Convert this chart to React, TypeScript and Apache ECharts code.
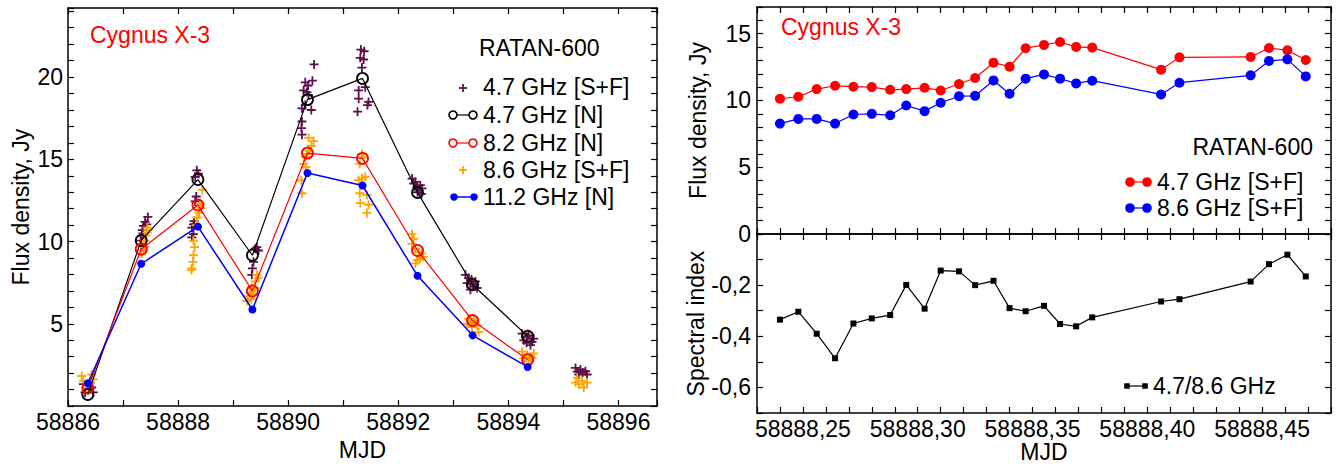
import React, { useEffect, useRef } from 'react';
import * as echarts from 'echarts';

const FONT = "'Liberation Sans', Arial, Helvetica, sans-serif";
const PURPLE = '#5e0f4c';
const ORANGE = '#ffa500';

// ---- Left panel: RATAN-600 N-sector daily points ----
const nMJD = [58886.36, 58887.33, 58888.36, 58889.35, 58890.35, 58891.35, 58892.35, 58893.35, 58894.35];
const n47 = [0.71, 10.07, 13.77, 9.17, 18.63, 19.92, 12.98, 7.38, 4.25];
const n82 = [1.1, 9.54, 12.22, 7.0, 15.38, 15.06, 9.46, 5.2, 2.82];
const n112 = [1.39, 8.65, 10.91, 5.87, 14.17, 13.41, 7.92, 4.3, 2.38];

// 4.7 GHz [S+F] individual measurements [MJD, Jy]
const sf47 = [
  [58886.28, 1.33], [58886.43, 1.13], [58886.31, 0.83], [58886.46, 0.83], [58886.40, 1.43],
  [58887.45, 11.5], [58887.40, 11.2], [58887.37, 10.95], [58887.43, 11.05], [58887.35, 10.7], [58887.34, 10.35], [58887.32, 10.06], [58887.33, 9.8], [58887.36, 10.5],
  [58888.34, 14.33], [58888.37, 14.13], [58888.31, 13.93], [58888.33, 12.74], [58888.31, 12.44], [58888.28, 11.05], [58888.25, 10.85], [58888.28, 10.46], [58888.25, 10.26], [58888.29, 11.25],
  [58889.43, 9.66], [58889.46, 9.46], [58889.40, 9.56], [58889.37, 8.77], [58889.35, 8.37], [58889.34, 7.98],
  [58890.47, 20.77], [58890.44, 19.78], [58890.31, 19.68], [58890.36, 19.49], [58890.28, 19.19], [58890.34, 19.09], [58890.37, 18.9], [58890.25, 18.1], [58890.42, 18.0], [58890.31, 18.3], [58890.25, 17.3], [58890.24, 16.9], [58890.25, 16.5],
  [58891.32, 21.67], [58891.38, 21.57], [58891.31, 21.17], [58891.37, 21.07], [58891.34, 20.58], [58891.40, 19.39], [58891.28, 19.19], [58891.28, 18.69], [58891.46, 18.49], [58891.44, 18.3], [58891.26, 17.9],
  [58892.25, 13.83], [58892.28, 13.53], [58892.34, 13.33], [58892.40, 13.43], [58892.43, 13.23], [58892.37, 13.14], [58892.31, 13.63], [58892.35, 13.0], [58892.42, 12.9],
  [58893.22, 7.98], [58893.28, 7.78], [58893.40, 7.58], [58893.43, 7.18], [58893.31, 7.08], [58893.37, 7.28], [58893.25, 7.48], [58893.35, 7.4], [58893.33, 7.7],
  [58894.25, 4.4], [58894.34, 4.21], [58894.43, 3.91], [58894.40, 3.71], [58894.28, 4.0], [58894.46, 4.1], [58894.37, 4.3], [58894.33, 3.85],
  [58895.22, 2.32], [58895.31, 2.22], [58895.40, 2.12], [58895.28, 1.92], [58895.43, 1.92], [58895.35, 2.05], [58895.25, 2.1],
];

// 8.6 GHz [S+F] individual measurements [MJD, Jy]
const sf86 = [
  [58886.25, 1.83], [58886.43, 1.92], [58886.28, 1.53], [58886.34, 1.13], [58886.46, 1.63],
  [58887.45, 10.71], [58887.41, 10.36], [58887.40, 10.06], [58887.39, 9.66], [58887.37, 9.46], [58887.44, 10.55], [58887.44, 10.85], [58887.37, 9.76], [58887.34, 9.27],
  [58888.44, 13.14], [58888.42, 12.04], [58888.38, 11.75], [58888.34, 11.45], [58888.28, 10.06], [58888.30, 9.66], [58888.28, 9.17], [58888.27, 8.77], [58888.25, 8.37], [58888.24, 8.27], [58888.40, 12.3], [58888.33, 11.0],
  [58889.43, 7.98], [58889.40, 7.58], [58889.34, 7.18], [58889.31, 6.89], [58889.28, 6.69], [58889.37, 6.79], [58889.33, 6.49], [58889.25, 6.39], [58889.40, 7.18], [58889.46, 7.8],
  [58890.37, 16.31], [58890.46, 16.11], [58890.42, 15.81], [58890.38, 15.52], [58890.31, 15.12], [58890.28, 14.72], [58890.32, 14.52], [58890.24, 13.73], [58890.25, 12.94], [58890.34, 15.32],
  [58891.34, 15.32], [58891.37, 15.12], [58891.30, 14.72], [58891.34, 13.83], [58891.28, 13.73], [58891.40, 13.93], [58891.30, 12.94], [58891.43, 12.84], [58891.31, 12.34], [58891.46, 12.24], [58891.43, 11.74],
  [58892.25, 10.46], [58892.28, 10.16], [58892.25, 9.86], [58892.31, 9.56], [58892.37, 9.36], [58892.43, 9.27], [58892.40, 8.97], [58892.34, 8.87], [58892.45, 9.07], [58892.31, 8.67],
  [58893.28, 5.3], [58893.37, 5.2], [58893.43, 4.9], [58893.34, 4.8], [58893.46, 4.5], [58893.25, 5.0], [58893.40, 5.1], [58893.31, 5.05],
  [58894.25, 3.31], [58894.34, 3.11], [58894.43, 2.92], [58894.37, 2.72], [58894.46, 3.21], [58894.28, 2.92], [58894.40, 3.0],
  [58895.25, 1.73], [58895.34, 1.53], [58895.28, 1.33], [58895.37, 1.13], [58895.43, 1.43], [58895.22, 1.43],
];

// ---- Right panel: one day, individual scans ----
const rMJD = [58888.240, 58888.248, 58888.256, 58888.264, 58888.272, 58888.280, 58888.288, 58888.295, 58888.303, 58888.310,
  58888.318, 58888.325, 58888.333, 58888.340, 58888.347, 58888.355, 58888.362, 58888.369, 58888.376, 58888.406,
  58888.414, 58888.445, 58888.453, 58888.461, 58888.469];
const r47 = [10.13, 10.28, 10.85, 11.1, 11.03, 11.0, 10.8, 10.85, 10.95, 10.75, 11.23, 11.68, 12.83, 12.53, 13.91,
  14.16, 14.38, 14.01, 13.96, 12.31, 13.23, 13.26, 13.93, 13.76, 13.03];
const r86 = [8.27, 8.62, 8.62, 8.27, 8.95, 9.0, 8.89, 9.62, 9.2, 9.83, 10.32, 10.35, 11.5, 10.5, 11.63,
  11.95, 11.63, 11.28, 11.48, 10.45, 11.33, 11.88, 12.96, 13.08, 11.8];
const spIdx = [-0.335, -0.304, -0.39, -0.486, -0.35, -0.33, -0.317, -0.199, -0.292, -0.143, -0.146, -0.2, -0.183,
  -0.29, -0.302, -0.281, -0.352, -0.361, -0.326, -0.264, -0.255, -0.186, -0.118, -0.081, -0.166];

const PLUS = 'path://M3.6,0H5.4V3.6H9V5.4H5.4V9H3.6V5.4H0V3.6H3.6Z';

const txt = { color: '#000', fontSize: 23, fontFamily: FONT };
const aLine = { show: true, onZero: false, lineStyle: { color: '#000', width: 1.5 } };
const aTick = { show: true, inside: true, length: 6, lineStyle: { color: '#000', width: 1.2 } };
const noSplit = { show: false };

function mirrorX(gridIndex: number, min: number, max: number, interval: number, position: string) {
  return { type: 'value', gridIndex, min, max, interval, position, axisLine: aLine, axisTick: aTick, axisLabel: { show: false }, splitLine: noSplit };
}
function mirrorY(gridIndex: number, min: number, max: number, interval: number) {
  return { type: 'value', gridIndex, min, max, interval, position: 'right', axisLine: aLine, axisTick: aTick, axisLabel: { show: false }, splitLine: noSplit };
}

function gText(text: string, x: number, y: number, fill = '#000', align = 'left') {
  return {
    type: 'text', x, y, silent: true,
    style: { text, fill, fontSize: 23, fontFamily: FONT, textAlign: align, align, textVerticalAlign: 'middle', verticalAlign: 'middle' },
  };
}
function gLine(x1: number, y1: number, x2: number, y2: number, stroke: string, w = 1.2) {
  return { type: 'line', shape: { x1, y1, x2, y2 }, style: { stroke, lineWidth: w }, silent: true };
}
function gCircle(cx: number, cy: number, r: number, stroke: string, fill: string, w = 1.6) {
  return { type: 'circle', shape: { cx, cy, r }, style: { stroke, fill, lineWidth: w }, silent: true };
}
function gPlus(cx: number, cy: number, color: string) {
  return {
    type: 'group', silent: true, children: [
      { type: 'rect', shape: { x: cx - 4, y: cy - 0.9, width: 8, height: 1.8 }, style: { fill: color } },
      { type: 'rect', shape: { x: cx - 0.9, y: cy - 4, width: 1.8, height: 8 }, style: { fill: color } },
    ],
  };
}
function gSquare(cx: number, cy: number, s: number) {
  return { type: 'rect', shape: { x: cx - s / 2, y: cy - s / 2, width: s, height: s }, style: { fill: '#000' }, silent: true };
}

export default function App() {
  const ref = useRef<HTMLDivElement>(null);
  useEffect(() => {
    if (!ref.current) return;
    const chart = echarts.init(ref.current, null, { renderer: 'svg' });
    const rightXLabel = (v: number) => {
      const k = Math.round(v * 100);
      if (k % 5 !== 0) return '';
      return (k / 100).toFixed(2).replace('.', ',');
    };
    chart.setOption({
      animation: false,
      backgroundColor: '#fff',
      textStyle: { fontFamily: FONT },
      grid: [
        { left: 68, top: 8, width: 589, height: 406 },
        { left: 757, top: 7, width: 574, height: 227 },
        { left: 757, top: 234, width: 574, height: 179 },
      ],
      xAxis: [
        {
          type: 'value', gridIndex: 0, min: 58886, max: 58896.7, interval: 1, position: 'bottom',
          axisLine: aLine, axisTick: aTick, splitLine: noSplit,
          axisLabel: { ...txt, margin: 4, formatter: (v: number) => (Number.isInteger(v) && v % 2 === 0 ? String(v) : '') },
          name: 'MJD', nameLocation: 'middle', nameGap: 25, nameTextStyle: txt,
        },
        mirrorX(0, 58886, 58896.7, 1, 'top'),
        mirrorX(1, 58888.23, 58888.48, 0.01, 'bottom'),
        mirrorX(1, 58888.23, 58888.48, 0.01, 'top'),
        {
          type: 'value', gridIndex: 2, min: 58888.23, max: 58888.48, interval: 0.01, position: 'bottom',
          axisLine: aLine, axisTick: aTick, splitLine: noSplit,
          axisLabel: { ...txt, margin: 4, formatter: rightXLabel },
          name: 'MJD', nameLocation: 'middle', nameGap: 26, nameTextStyle: txt,
        },
        mirrorX(2, 58888.23, 58888.48, 0.01, 'top'),
      ],
      yAxis: [
        {
          type: 'value', gridIndex: 0, min: 0, max: 24.2, interval: 1, position: 'left',
          axisLine: aLine, axisTick: aTick, splitLine: noSplit,
          axisLabel: { ...txt, margin: 5, formatter: (v: number) => (v > 0 && v % 5 === 0 ? String(v) : '') },
          name: 'Flux density, Jy', nameLocation: 'middle', nameGap: 36, nameTextStyle: txt,
        },
        mirrorY(0, 0, 24.2, 1),
        {
          type: 'value', gridIndex: 1, min: 0, max: 17, interval: 1, position: 'left',
          axisLine: aLine, axisTick: aTick, splitLine: noSplit,
          axisLabel: { ...txt, margin: 6, formatter: (v: number) => (Number.isInteger(v) && v % 5 === 0 ? String(v) : '') },
          name: 'Flux density, Jy', nameLocation: 'middle', nameGap: 48, nameTextStyle: txt,
        },
        mirrorY(1, 0, 17, 1),
        {
          type: 'value', gridIndex: 2, min: -0.7, max: 0, interval: 0.1, position: 'left',
          axisLine: aLine, axisTick: aTick, splitLine: noSplit,
          axisLabel: {
            ...txt, margin: 6, formatter: (v: number) => {
              const k = Math.round(v * 10);
              if (k === 0 || k % 2 !== 0) return '';
              return (k / 10).toFixed(1).replace('.', ',');
            },
          },
          name: 'Spectral index', nameLocation: 'middle', nameGap: 48, nameTextStyle: txt,
        },
        mirrorY(2, -0.7, 0, 0.1),
      ],
      series: [
        {
          name: '4.7 GHz [S+F]', type: 'scatter', xAxisIndex: 0, yAxisIndex: 0, data: sf47,
          symbol: PLUS, symbolSize: 9, itemStyle: { color: PURPLE, opacity: 1 },
        },
        {
          name: '4.7 GHz [N]', type: 'line', xAxisIndex: 0, yAxisIndex: 0,
          data: nMJD.map((x, i) => [x, n47[i]]),
          symbol: 'circle', symbolSize: 11, showAllSymbol: true,
          itemStyle: { color: 'rgba(0,0,0,0)', borderColor: '#000', borderWidth: 1.8 },
          lineStyle: { color: '#000', width: 1.2 },
        },
        {
          name: '8.2 GHz [N]', type: 'line', xAxisIndex: 0, yAxisIndex: 0,
          data: nMJD.map((x, i) => [x, n82[i]]),
          symbol: 'circle', symbolSize: 11, showAllSymbol: true,
          itemStyle: { color: 'rgba(0,0,0,0)', borderColor: '#ff0000', borderWidth: 1.8 },
          lineStyle: { color: '#ff0000', width: 1.2 },
        },
        {
          name: '8.6 GHz [S+F]', type: 'scatter', xAxisIndex: 0, yAxisIndex: 0, data: sf86,
          symbol: PLUS, symbolSize: 9, itemStyle: { color: ORANGE, opacity: 1 },
        },
        {
          name: '11.2 GHz [N]', type: 'line', xAxisIndex: 0, yAxisIndex: 0,
          data: nMJD.map((x, i) => [x, n112[i]]),
          symbol: 'circle', symbolSize: 8, showAllSymbol: true,
          itemStyle: { color: '#0000ff' },
          lineStyle: { color: '#0000ff', width: 1.5 },
        },
        {
          name: 'R 4.7 GHz [S+F]', type: 'line', xAxisIndex: 2, yAxisIndex: 2,
          data: rMJD.map((x, i) => [x, r47[i]]),
          symbol: 'circle', symbolSize: 10, showAllSymbol: true,
          itemStyle: { color: '#ff0000' }, lineStyle: { color: '#ff0000', width: 1.2 },
        },
        {
          name: 'R 8.6 GHz [S+F]', type: 'line', xAxisIndex: 2, yAxisIndex: 2,
          data: rMJD.map((x, i) => [x, r86[i]]),
          symbol: 'circle', symbolSize: 10, showAllSymbol: true,
          itemStyle: { color: '#0000ff' }, lineStyle: { color: '#0000ff', width: 1.2 },
        },
        {
          name: '4.7/8.6 GHz', type: 'line', xAxisIndex: 4, yAxisIndex: 4,
          data: rMJD.map((x, i) => [x, spIdx[i]]),
          symbol: 'rect', symbolSize: 6, showAllSymbol: true,
          itemStyle: { color: '#000' }, lineStyle: { color: '#000', width: 1.2 },
        },
      ],
      graphic: [
        gText('Cygnus X-3', 90, 35, '#ff0000'),
        gText('Cygnus X-3', 781, 27, '#ff0000'),
        // left legend
        gText('RATAN-600', 479, 48),
        gPlus(463, 88, PURPLE),
        gText('4.7 GHz [S+F]', 483, 87),
        gLine(457, 115, 469, 115, '#000'),
        gCircle(453, 115, 4, '#000', 'none'),
        gCircle(473, 115, 4, '#000', 'none'),
        gText('4.7 GHz [N]', 483, 115),
        gLine(457, 143, 469, 143, '#ff0000'),
        gCircle(453, 143, 4, '#ff0000', 'none'),
        gCircle(473, 143, 4, '#ff0000', 'none'),
        gText('8.2 GHz [N]', 483, 143),
        gPlus(463, 170, ORANGE),
        gText('8.6 GHz [S+F]', 483, 170),
        gLine(454, 197, 474, 197, '#0000ff', 1.5),
        gCircle(454, 197, 3.8, '#0000ff', '#0000ff', 0),
        gCircle(474, 197, 3.8, '#0000ff', '#0000ff', 0),
        gText('11.2 GHz [N]', 483, 197),
        // right top legend
        gText('RATAN-600', 1313, 147, '#000', 'right'),
        gLine(1130, 182, 1147, 182, '#ff0000'),
        gCircle(1130, 182, 4.8, '#ff0000', '#ff0000', 0),
        gCircle(1147, 182, 4.8, '#ff0000', '#ff0000', 0),
        gText('4.7 GHz [S+F]', 1157, 182),
        gLine(1130, 208, 1147, 208, '#0000ff'),
        gCircle(1130, 208, 4.8, '#0000ff', '#0000ff', 0),
        gCircle(1147, 208, 4.8, '#0000ff', '#0000ff', 0),
        gText('8.6 GHz [S+F]', 1157, 208),
        // right bottom legend
        gLine(1127, 386, 1145, 386, '#000'),
        gSquare(1127, 386, 5.5),
        gSquare(1145, 386, 5.5),
        gText('4.7/8.6 GHz', 1153, 386),
      ],
    });
    return () => chart.dispose();
  }, []);
  return <div ref={ref} style={{ position: 'absolute', left: 0, top: 0, width: 1343, height: 466, background: '#fff' }} />;
}
